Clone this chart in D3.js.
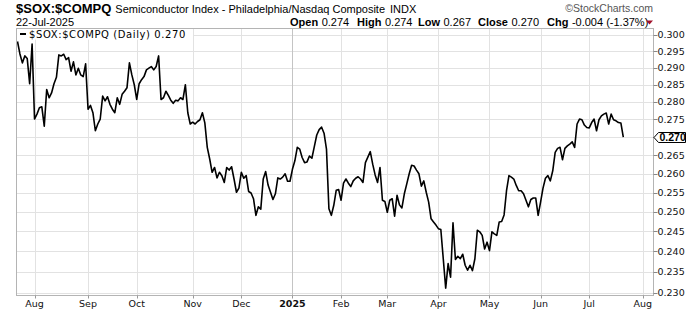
<!DOCTYPE html>
<html>
<head>
<meta charset="utf-8">
<script src="https://cdn.jsdelivr.net/npm/d3@7"></script>
<style>
	body { margin: 0; background: #fff; }
	svg { display: block; }
</style>
</head>
<body>
<div id="chart"></div>
<script>
// daily close of $SOX:$COMPQ, 23-Jul-2024 .. 22-Jul-2025
var ratios = [
	0.2980, 0.2942, 0.2915, 0.2936, 0.2928, 0.2853, 0.2972, 0.2751, 0.2765, 0.2783,
	0.2786, 0.2731, 0.2836, 0.2812, 0.2826, 0.2853, 0.2872, 0.2939, 0.2936, 0.2941,
	0.2925, 0.2931, 0.2890, 0.2918, 0.2879, 0.2899, 0.2879, 0.2874, 0.2912, 0.2779,
	0.2790, 0.2769, 0.2718, 0.2737, 0.2751, 0.2817, 0.2803, 0.2815, 0.2793, 0.2779,
	0.2769, 0.2812, 0.2793, 0.2822, 0.2831, 0.2841, 0.2915, 0.2879, 0.2850, 0.2807,
	0.2853, 0.2865, 0.2874, 0.2894, 0.2899, 0.2904, 0.2894, 0.2904, 0.2936, 0.2807,
	0.2812, 0.2831, 0.2819, 0.2805, 0.2796, 0.2805, 0.2803, 0.2812, 0.2807, 0.2850,
	0.2769, 0.2737, 0.2742, 0.2737, 0.2744, 0.2749, 0.2769, 0.2740, 0.2672, 0.2640,
	0.2604, 0.2617, 0.2589, 0.2604, 0.2595, 0.2577, 0.2617, 0.2610, 0.2619, 0.2586,
	0.2551, 0.2562, 0.2604, 0.2588, 0.2595, 0.2553, 0.2549, 0.2534, 0.2491, 0.2513,
	0.2507, 0.2586, 0.2606, 0.2570, 0.2551, 0.2532, 0.2547, 0.2589, 0.2586, 0.2591,
	0.2600, 0.2580, 0.2580, 0.2612, 0.2635, 0.2672, 0.2667, 0.2644, 0.2630, 0.2632,
	0.2648, 0.2642, 0.2674, 0.2706, 0.2721, 0.2728, 0.2711, 0.2667, 0.2508, 0.2491,
	0.2517, 0.2556, 0.2558, 0.2530, 0.2575, 0.2586, 0.2575, 0.2566, 0.2581, 0.2588,
	0.2592, 0.2586, 0.2577, 0.2630, 0.2645, 0.2660, 0.2626, 0.2597, 0.2577, 0.2617,
	0.2530, 0.2527, 0.2499, 0.2530, 0.2534, 0.2489, 0.2543, 0.2518, 0.2510, 0.2547,
	0.2573, 0.2600, 0.2623, 0.2621, 0.2610, 0.2600, 0.2567, 0.2581, 0.2551, 0.2525,
	0.2482, 0.2474, 0.2466, 0.2457, 0.2455, 0.2382, 0.2311, 0.2370, 0.2337, 0.2472,
	0.2380, 0.2388, 0.2382, 0.2393, 0.2366, 0.2354, 0.2366, 0.2353, 0.2382, 0.2453,
	0.2449, 0.2440, 0.2406, 0.2423, 0.2402, 0.2449, 0.2444, 0.2440, 0.2474, 0.2475,
	0.2492, 0.2555, 0.2595, 0.2591, 0.2586, 0.2569, 0.2555, 0.2555, 0.2547, 0.2530,
	0.2513, 0.2532, 0.2536, 0.2536, 0.2491, 0.2525, 0.2562, 0.2588, 0.2595, 0.2581,
	0.2608, 0.2658, 0.2669, 0.2672, 0.2638, 0.2669, 0.2676, 0.2681, 0.2687, 0.2672,
	0.2737, 0.2751, 0.2749, 0.2734, 0.2727, 0.2726, 0.2741, 0.2751, 0.2718, 0.2749,
	0.2760, 0.2765, 0.2768, 0.2737, 0.2765, 0.2749, 0.2746, 0.2741, 0.2740, 0.2700
];

// market holidays in the range (trading-day axis)
var holidays = ['2024-09-02', '2024-11-28', '2024-12-25', '2025-01-01', '2025-01-09',
	'2025-01-20', '2025-02-17', '2025-04-18', '2025-05-26', '2025-06-19', '2025-07-04'];

var monthLabels = ['Aug', 'Sep', 'Oct', 'Nov', 'Dec', '2025', 'Feb', 'Mar', 'Apr', 'May', 'Jun', 'Jul', 'Aug'];
var yTicks = [0.230, 0.235, 0.240, 0.245, 0.250, 0.255, 0.260, 0.265, 0.270, 0.275, 0.280, 0.285, 0.290, 0.295, 0.300];

var quoteLabels = ['Open', 'High', 'Low', 'Close', 'Chg'];
var quoteValues = ['0.274', '0.274', '0.267', '0.270', '-0.004 (-1.37%)'];
var lastValue = 0.270;

var width = 700, height = 312;
var plot = {left: 16.5, right: 653.5, top: 28.5, bottom: 295.5};
var axisFont = '"DejaVu Sans", sans-serif';
var headFont = '"Liberation Sans", Arial, sans-serif';

// trading days, so the x axis skips weekends and holidays
var fmt = d3.utcFormat('%Y-%m-%d');
var days = d3.utcDay.range(new Date(Date.UTC(2024, 6, 23)), new Date(Date.UTC(2025, 7, 2)))
	.filter(function(d) { return d.getUTCDay() != 0 && d.getUTCDay() != 6 && holidays.indexOf(fmt(d)) < 0; });

var monthTicks = [];
days.forEach(function(d, i) {
	if(i > 0 && d.getUTCMonth() != days[i - 1].getUTCMonth())
		monthTicks.push(i);
});

var x = d3.scaleLinear().domain([0, 249]).range([17.5, 623.3]);
var y = d3.scaleLog().domain([0.23, 0.30]).range([292.7, 35]);

var svg = d3.select('#chart').append('svg')
	.attr('width', width)
	.attr('height', height);

svg.append('defs').append('clipPath').attr('id', 'plotclip')
	.append('rect')
	.attr('x', plot.left).attr('y', plot.top)
	.attr('width', plot.right - plot.left).attr('height', plot.bottom - plot.top);

// grid
svg.append('g').selectAll('line')
	.data(yTicks)
	.enter().append('line')
	.attr('x1', plot.left).attr('x2', plot.right)
	.attr('y1', function(d) { return Math.round(y(d)) + 0.5; })
	.attr('y2', function(d) { return Math.round(y(d)) + 0.5; })
	.attr('stroke', '#e2e2e2');

svg.append('g').selectAll('line')
	.data(monthTicks)
	.enter().append('line')
	.attr('x1', function(d) { return Math.round(x(d)) + 0.5; })
	.attr('x2', function(d) { return Math.round(x(d)) + 0.5; })
	.attr('y1', plot.top).attr('y2', plot.bottom)
	.attr('stroke', function(d, i) { return monthLabels[i] == '2025' ? '#c4c4c4' : '#e2e2e2'; });

// price line
svg.append('path')
	.datum(ratios)
	.attr('clip-path', 'url(#plotclip)')
	.attr('fill', 'none')
	.attr('stroke', '#000')
	.attr('stroke-width', 1.6)
	.attr('stroke-linejoin', 'round')
	.attr('d', d3.line().x(function(d, i) { return x(i); }).y(function(d) { return y(d); }));

// frame
svg.append('rect')
	.attr('x', plot.left).attr('y', plot.top)
	.attr('width', plot.right - plot.left).attr('height', plot.bottom - plot.top)
	.attr('fill', 'none')
	.attr('stroke', '#b4b4b4');

// y axis on the right
var yAxis = svg.append('g');
yAxis.selectAll('line')
	.data(yTicks)
	.enter().append('line')
	.attr('x1', plot.right).attr('x2', plot.right + 4)
	.attr('y1', function(d) { return Math.round(y(d)) + 0.5; })
	.attr('y2', function(d) { return Math.round(y(d)) + 0.5; })
	.attr('stroke', '#888');
yAxis.selectAll('text')
	.data(yTicks.filter(function(d) { return d != lastValue; }))
	.enter().append('text')
	.attr('x', plot.right + 4)
	.attr('y', function(d) { return y(d); })
	.attr('dy', '0.36em')
	.attr('font-family', axisFont)
	.attr('font-size', '9.5px')
	.attr('fill', '#111')
	.text(function(d) { return d.toFixed(3); });

// current value marker
var ly = Math.round(y(lastValue)) + 0.5;
svg.append('path')
	.attr('d', 'M' + [654, ly] + 'L' + [658.5, ly - 5] + 'L' + [685.5, ly - 5] + 'L' + [685.5, ly + 5] + 'L' + [658.5, ly + 5] + 'Z')
	.attr('fill', '#fff')
	.attr('stroke', '#000');
svg.append('text')
	.attr('x', 659.5).attr('y', ly).attr('dy', '0.36em')
	.attr('font-family', headFont)
	.attr('font-size', '10.5px')
	.attr('font-weight', 'bold')
	.text(lastValue.toFixed(3));

// x axis
var xAxis = svg.append('g');
xAxis.selectAll('line')
	.data(monthTicks)
	.enter().append('line')
	.attr('x1', function(d) { return Math.round(x(d)) + 0.5; })
	.attr('x2', function(d) { return Math.round(x(d)) + 0.5; })
	.attr('y1', plot.bottom).attr('y2', plot.bottom + 3)
	.attr('stroke', '#999');
xAxis.selectAll('text')
	.data(monthTicks)
	.enter().append('text')
	.attr('x', function(d) { return x(d); })
	.attr('y', 307)
	.attr('text-anchor', 'middle')
	.attr('font-family', axisFont)
	.attr('font-size', '9.5px')
	.attr('font-weight', function(d, i) { return monthLabels[i] == '2025' ? 'bold' : 'normal'; })
	.attr('fill', '#111')
	.text(function(d, i) { return monthLabels[i]; });

// legend
var legend = svg.append('g');
legend.append('rect')
	.attr('x', 17).attr('y', 29).attr('width', 176).attr('height', 10.5)
	.attr('fill', '#fff');
legend.append('line')
	.attr('x1', 20).attr('x2', 26).attr('y1', 34).attr('y2', 34)
	.attr('stroke', '#000').attr('stroke-width', 2);
legend.append('text')
	.attr('x', 29).attr('y', 38)
	.attr('font-family', axisFont)
	.attr('font-size', '10px')
	.attr('letter-spacing', '0.6px')
	.text('$SOX:$COMPQ (Daily) 0.270');

// header
var title = svg.append('text')
	.attr('x', 16).attr('y', 13)
	.attr('font-family', headFont);
title.append('tspan').attr('font-size', '13px').attr('font-weight', 'bold').text('$SOX:$COMPQ');
title.append('tspan').attr('dx', 4).attr('font-size', '11px').text('Semiconductor Index - Philadelphia/Nasdaq Composite');
title.append('tspan').attr('dx', 5).attr('font-size', '11px').text('INDX');

svg.append('text')
	.attr('x', 653).attr('y', 12)
	.attr('text-anchor', 'end')
	.attr('font-family', headFont)
	.attr('font-size', '10.5px')
	.attr('fill', '#555')
	.text('\u00a9StockCharts.com');

svg.append('text')
	.attr('x', 16).attr('y', 26)
	.attr('font-family', headFont)
	.attr('font-size', '11px')
	.text('22-Jul-2025');

var quoteX = [290, 357, 418, 478, 547];
quoteLabels.forEach(function(lbl, i) {
	var t = svg.append('text')
		.attr('x', quoteX[i]).attr('y', 26)
		.attr('font-family', headFont)
		.attr('font-size', '11px');
	t.append('tspan').attr('font-weight', 'bold').text(lbl);
	t.append('tspan').attr('dx', 3.5).text(quoteValues[i]);
});

svg.append('path')
	.attr('d', 'M646,20.5L653,20.5L649.5,24.5Z')
	.attr('fill', '#a0102a');
</script>
</body>
</html>
